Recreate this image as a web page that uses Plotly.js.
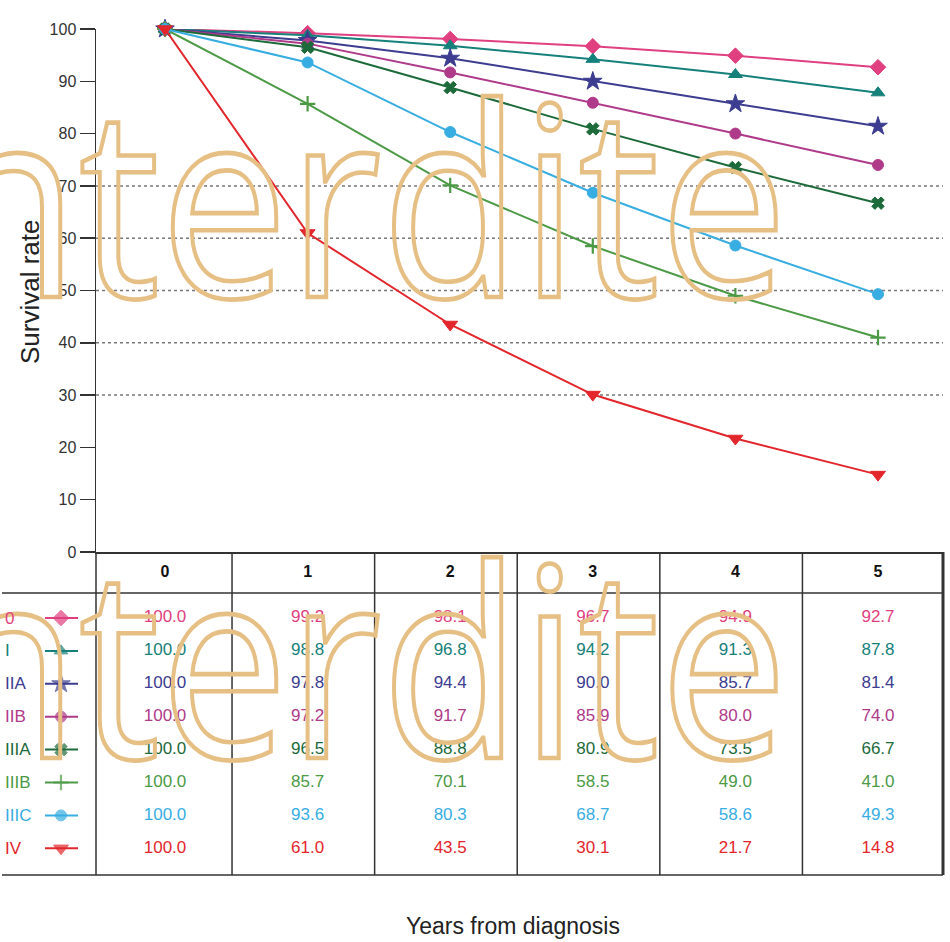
<!DOCTYPE html>
<html>
<head>
<meta charset="utf-8">
<script src="https://cdn.plot.ly/plotly-3.0.1.min.js"></script>
<style>
html,body{margin:0;padding:0;background:#fff;}
#chart{width:950px;height:942px;}
</style>
</head>
<body>
<div id="chart"></div>
<script>
// ---------- DATA ----------
const years = [0, 1, 2, 3, 4, 5];
const stages = ['0', 'I', 'IIA', 'IIB', 'IIIA', 'IIIB', 'IIIC', 'IV'];
const stage0    = [100.0, 99.2, 98.1, 96.7, 94.9, 92.7];
const stageI    = [100.0, 98.8, 96.8, 94.2, 91.3, 87.8];
const stageIIA  = [100.0, 97.8, 94.4, 90.0, 85.7, 81.4];
const stageIIB  = [100.0, 97.2, 91.7, 85.9, 80.0, 74.0];
const stageIIIA = [100.0, 96.5, 88.8, 80.9, 73.5, 66.7];
const stageIIIB = [100.0, 85.7, 70.1, 58.5, 49.0, 41.0];
const stageIIIC = [100.0, 93.6, 80.3, 68.7, 58.6, 49.3];
const stageIV   = [100.0, 61.0, 43.5, 30.1, 21.7, 14.8];
const yTicks = [0, 10, 20, 30, 40, 50, 60, 70, 80, 90, 100];
const gridValues = [30, 40, 50, 60, 70];
const yTitle = 'Survival rate';
const xTitle = 'Years from diagnosis';
const watermark = 'nterdite';

// ---------- STYLE ----------
const series = [stage0, stageI, stageIIA, stageIIB, stageIIIA, stageIIIB, stageIIIC, stageIV];
const colors = ['#E03F80', '#16807A', '#3C3C90', '#B03A8A', '#1D6A3A', '#4C9A46', '#38ADE2', '#E2262C'];
const symbols = ['diamond', 'triangle-up', 'star', 'circle', 'x', 'cross-thin', 'circle', 'triangle-down'];
const sizes = [12, 12, 14, 11, 11, 11, 11, 13];
const FONT = 'Liberation Sans, Arial, sans-serif';

const W = 950, H = 942;
const M = {l: 0, r: 7, t: 29, b: 67};
const PW = W - M.l - M.r, PH = H - M.t - M.b;
const fx = p => (p - M.l) / PW;          // pixel x -> paper
const fy = p => (H - M.b - p) / PH;      // pixel y -> paper
const rowPx0 = 618, rowStep = 32.9;       // table row layout
const rowAt = p => (p - rowPx0) / rowStep;
const headerRow = rowAt(573);

const traces = [];
const markerOf = i => {
  const thin = symbols[i] === 'cross-thin';
  return {
    symbol: symbols[i], size: sizes[i], color: colors[i],
    line: {color: colors[i], width: thin ? 2.2 : 1}
  };
};

// plotted lines
series.forEach((s, i) => {
  traces.push({
    x: years, y: s, xaxis: 'x', yaxis: 'y',
    mode: 'lines+markers', cliponaxis: false,
    line: {color: colors[i], width: 2},
    marker: markerOf(i),
    showlegend: false, hoverinfo: 'x+y', name: stages[i]
  });
});

// table values
series.forEach((s, i) => {
  traces.push({
    x: years, y: years.map(() => i), xaxis: 'x', yaxis: 'y2',
    mode: 'text', text: s.map(v => v.toFixed(1)),
    textfont: {family: FONT, size: 17, color: colors[i]},
    showlegend: false, hoverinfo: 'skip', cliponaxis: false
  });
});

// table header
traces.push({
  x: years, y: years.map(() => headerRow), xaxis: 'x', yaxis: 'y2',
  mode: 'text', text: years.map(y => '<b>' + y + '</b>'),
  textfont: {family: FONT, size: 16, color: '#111'},
  showlegend: false, hoverinfo: 'skip', cliponaxis: false
});

// legend glyphs in table
series.forEach((s, i) => {
  const m = markerOf(i);
  m.size = [0, sizes[i], 0];
  traces.push({
    x: [45, 61, 78], y: [i, i, i], xaxis: 'x2', yaxis: 'y2',
    mode: 'lines+markers', cliponaxis: false,
    line: {color: colors[i], width: 2},
    marker: m, showlegend: false, hoverinfo: 'skip'
  });
});

// ---------- SHAPES ----------
const shapes = [];
gridValues.forEach(v => shapes.push({
  type: 'line', xref: 'paper', yref: 'y', x0: fx(96), x1: 1, y0: v, y1: v,
  line: {color: '#777', width: 1.5, dash: 'dot'}, layer: 'below'
}));
const tableTop = fy(552);
const dark = '#333';
shapes.push({type: 'line', xref: 'paper', yref: 'paper', x0: fx(2), x1: 1, y0: fy(593), y1: fy(593), line: {color: dark, width: 1.5}});
shapes.push({type: 'line', xref: 'paper', yref: 'paper', x0: fx(2), x1: 1, y0: fy(875), y1: fy(875), line: {color: dark, width: 1.5}});
shapes.push({type: 'line', xref: 'paper', yref: 'paper', x0: fx(96), x1: fx(96), y0: 0, y1: tableTop, line: {color: dark, width: 1.5}});
years.slice(0, -1).forEach(k => shapes.push({
  type: 'line', xref: 'x', yref: 'paper', x0: k + 0.47, x1: k + 0.47, y0: 0, y1: tableTop,
  line: {color: dark, width: 1.5}
}));
shapes.push({type: 'line', xref: 'paper', yref: 'paper', x0: 1, x1: 1, y0: 0, y1: tableTop, line: {color: dark, width: 3}});

// ---------- ANNOTATIONS ----------
const annotations = [];
[208, 669].forEach(p => annotations.push({
  xref: 'paper', yref: 'paper', x: fx(-63), y: fy(p), xanchor: 'left', yanchor: 'middle',
  text: watermark, showarrow: false,
  font: {family: 'Open Sans, sans-serif', size: 228, color: '#E6BF85'}
}));
stages.forEach((st, i) => annotations.push({
  xref: 'paper', yref: 'y2', x: fx(3), y: i, xanchor: 'left', yanchor: 'middle',
  text: st, showarrow: false, font: {family: FONT, size: 17, color: colors[i]}
}));
annotations.push({
  xref: 'paper', yref: 'paper', x: fx(30), y: fy(292), xanchor: 'center', yanchor: 'middle',
  text: yTitle, textangle: -90, showarrow: false, font: {family: FONT, size: 26, color: '#222'}
});
annotations.push({
  xref: 'paper', yref: 'paper', x: fx(513), y: fy(926), xanchor: 'center', yanchor: 'middle',
  text: xTitle, showarrow: false, font: {family: FONT, size: 23, color: '#222'}
});

const layout = {
  width: W, height: H, margin: M,
  paper_bgcolor: '#fff', plot_bgcolor: 'rgba(0,0,0,0)',
  showlegend: false,
  xaxis: {
    domain: [fx(96), 1], range: [-0.4839, 5.4558], anchor: 'y',
    showgrid: false, zeroline: false, showticklabels: false, ticks: '',
    showline: true, linecolor: dark, linewidth: 2
  },
  yaxis: {
    domain: [tableTop, 1], range: [0, 100], anchor: 'x',
    tickmode: 'array', tickvals: yTicks, ticktext: yTicks.map(String),
    ticks: 'outside', ticklen: 15, tickwidth: 1.5, tickcolor: dark,
    showline: true, linecolor: dark, linewidth: 1.5,
    showgrid: false, zeroline: false,
    tickfont: {family: FONT, size: 16, color: '#333'}
  },
  xaxis2: {domain: [0, fx(96)], range: [0, 96], anchor: 'y2', visible: false},
  yaxis2: {domain: [0, tableTop], range: [rowAt(875), rowAt(552)], anchor: 'x', visible: false},
  shapes: shapes,
  annotations: annotations
};

Plotly.newPlot('chart', traces, layout, {displayModeBar: false, staticPlot: true}).then(() => {
  document.querySelectorAll('g.annotation').forEach(g => {
    const idx = g.getAttribute('data-index');
    if (idx === '0' || idx === '1') {
      g.querySelectorAll('text').forEach(t => {
        t.style.fill = 'none';
        t.style.stroke = '#E6BF85';
        t.style.strokeWidth = '4px';
        const base = parseFloat(t.getAttribute('y')) || 0;
        const prev = t.getAttribute('transform') || '';
        t.setAttribute('transform', prev + ' translate(0 ' + base + ') scale(1 1.16) translate(0 ' + (-base) + ')');
      });
    }
  });
});
</script>
</body>
</html>
